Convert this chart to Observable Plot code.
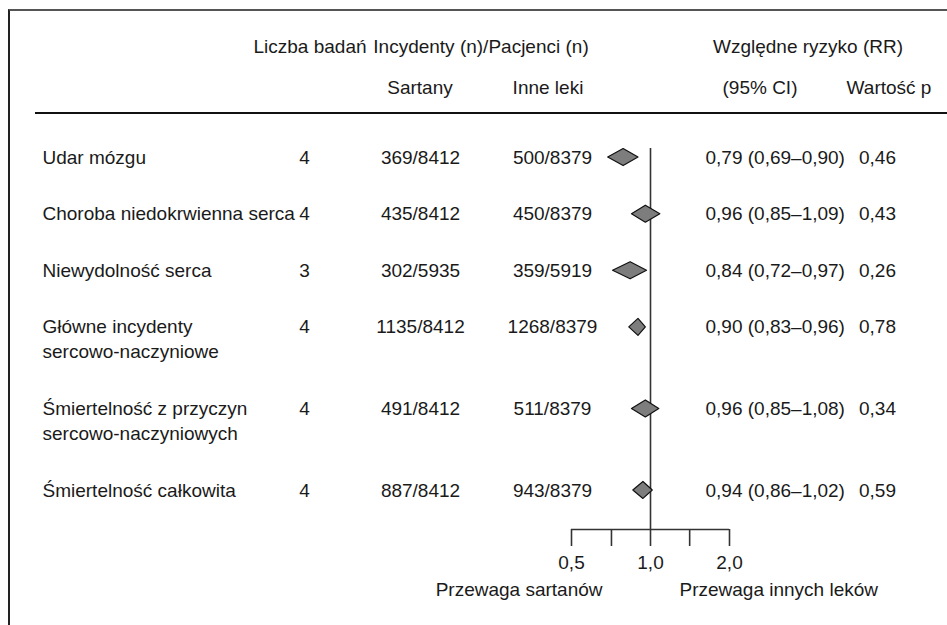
<!DOCTYPE html>
<html>
<head>
<meta charset="utf-8">
<script src="https://cdn.jsdelivr.net/npm/d3@7"></script>
<script src="https://cdn.jsdelivr.net/npm/@observablehq/plot@0.6"></script>
<style>
  html, body { margin: 0; padding: 0; background: #fff; }
  body { width: 947px; height: 625px; position: relative; overflow: hidden;
         font-family: "Liberation Sans", Arial, sans-serif; color: #1a1a1a; }
  #border { position: absolute; left: 8px; top: 9px; right: 0; bottom: 0;
            border-top: 2px solid #555; border-left: 2px solid #222; }
  #header { position: absolute; left: 0; top: 0; width: 947px; height: 115px; }
  #header span { position: absolute; font-size: 19px; line-height: 24px; white-space: nowrap; transform: translateX(-50%); }
  #hrule { position: absolute; left: 35px; right: 0; top: 112px; height: 0; border-top: 2px solid #111; }
  #chart { position: absolute; left: 0; top: 115px; }
  #chart svg g[aria-label="x-axis tick"] path { stroke-width: 1.6; stroke: #333; }
</style>
</head>
<body>
<div id="border"></div>
<div id="header"></div>
<div id="hrule"></div>
<div id="chart"></div>
<script>
// ---- data ----
const outcomes = [
  "Udar mózgu",
  "Choroba niedokrwienna serca",
  "Niewydolność serca",
  "Główne incydenty\nsercowo-naczyniowe",
  "Śmiertelność z przyczyn\nsercowo-naczyniowych",
  "Śmiertelność całkowita"
];
const studies = [4, 4, 3, 4, 4, 4];
const sartanEvents = [369, 435, 302, 1135, 491, 887];
const sartanPatients = [8412, 8412, 5935, 8412, 8412, 8412];
const otherEvents = [500, 450, 359, 1268, 511, 943];
const otherPatients = [8379, 8379, 5919, 8379, 8379, 8379];
const rr = [0.79, 0.96, 0.84, 0.90, 0.96, 0.94];
const ciLow = [0.69, 0.85, 0.72, 0.83, 0.85, 0.86];
const ciHigh = [0.90, 1.09, 0.97, 0.96, 1.08, 1.02];
const pValues = [0.46, 0.43, 0.26, 0.78, 0.34, 0.59];
const tickValues = [0.5, 0.71, 1, 1.41, 2];
const tickLabels = ["0,5", "", "1,0", "", "2,0"];
const headerRow1 = ["Liczba badań", "Incydenty (n)/Pacjenci (n)", "Względne ryzyko (RR)"];
const headerRow2 = ["Sartany", "Inne leki", "(95% CI)", "Wartość p"];
const notes = ["Przewaga sartanów", "Przewaga innych leków"];

// ---- header (HTML above the SVG) ----
const header = document.getElementById("header");
const h1x = [310, 481, 808], h2x = [420, 548, 760, 889];
headerRow1.forEach((t, i) => {
  const s = document.createElement("span"); s.textContent = t;
  s.style.left = h1x[i] + "px"; s.style.top = "35px"; header.appendChild(s);
});
headerRow2.forEach((t, i) => {
  const s = document.createElement("span"); s.textContent = t;
  s.style.left = h2x[i] + "px"; s.style.top = "76px"; header.appendChild(s);
});

// ---- table ----
const EXTRA = 0.44; // extra row space per additional text line
let acc = 0;
const fmt = d => d.toFixed(2).replace(".", ",");
const rows = outcomes.map((o, i) => {
  const lines = o.split("\n");
  const pos = i + acc;
  acc += EXTRA * (lines.length - 1);
  return {
    line1: lines[0], line2: lines[1] || "",
    pos,
    studies: String(studies[i]),
    sartan: `${sartanEvents[i]}/${sartanPatients[i]}`,
    other: `${otherEvents[i]}/${otherPatients[i]}`,
    rr: rr[i], lo: ciLow[i], hi: ciHigh[i],
    rrText: `${fmt(rr[i])} (${fmt(ciLow[i])}–${fmt(ciHigh[i])})`,
    p: fmt(pValues[i]),
    name: outcomes[i]
  };
});
const HALF = 0.15;
const diamonds = rows.flatMap(r => [
  {name: r.name, x: r.lo, y1: r.pos, y2: r.pos},
  {name: r.name, x: r.rr, y1: r.pos - HALF, y2: r.pos + HALF},
  {name: r.name, x: r.hi, y1: r.pos, y2: r.pos}
]);
const maxPos = rows[rows.length - 1].pos;
const yDomain = [-0.16, maxPos + 0.69]; // frame top / axis line in row units
const labelMap = new Map(tickValues.map((v, i) => [v, tickLabels[i]]));
const FONT = '"Liberation Sans", Arial, sans-serif';

const chart = Plot.plot({
  width: 947,
  height: 510,
  marginLeft: 0, marginRight: 0, marginTop: 33, marginBottom: 96,
  style: {fontFamily: FONT, fontSize: "19px", color: "#1a1a1a", background: "transparent"},
  x: {type: "log", domain: [0.5, 2], range: [571, 729], ticks: tickValues,
      tickFormat: d => labelMap.get(d), tickSize: 17, tickPadding: 9, label: null},
  y: {domain: yDomain, reverse: true, axis: null},
  marks: [
    Plot.ruleY([yDomain[1]], {x1: tickValues[0], x2: tickValues[tickValues.length - 1], stroke: "#333", strokeWidth: 1.6}),
    Plot.ruleX([1], {stroke: "#333", strokeWidth: 1.6}),
    Plot.areaY(diamonds, {x: "x", y1: "y1", y2: "y2", z: "name", fill: "#7d7d7d", stroke: "#111", strokeWidth: 1.2, curve: "linear"}),
    Plot.text(rows, {y: "pos", text: "line1", frameAnchor: "left", dx: 42, textAnchor: "start"}),
    Plot.text(rows, {y: "pos", text: "line2", frameAnchor: "left", dx: 42, dy: 25, textAnchor: "start"}),
    Plot.text(rows, {y: "pos", text: "studies", frameAnchor: "left", dx: 304, textAnchor: "middle"}),
    Plot.text(rows, {y: "pos", text: "sartan", frameAnchor: "left", dx: 420, textAnchor: "middle"}),
    Plot.text(rows, {y: "pos", text: "other", frameAnchor: "left", dx: 552, textAnchor: "middle"}),
    Plot.text(rows, {y: "pos", text: "rrText", frameAnchor: "left", dx: 705, textAnchor: "start"}),
    Plot.text(rows, {y: "pos", text: "p", frameAnchor: "left", dx: 877, textAnchor: "middle"}),
    Plot.text([notes[0]], {x: () => 1, text: d => d, frameAnchor: "bottom", dy: 66, dx: -48, textAnchor: "end"}),
    Plot.text([notes[1]], {x: () => 1, text: d => d, frameAnchor: "bottom", dy: 66, dx: 29, textAnchor: "start"})
  ]
});
document.getElementById("chart").appendChild(chart);
</script>
</body>
</html>
